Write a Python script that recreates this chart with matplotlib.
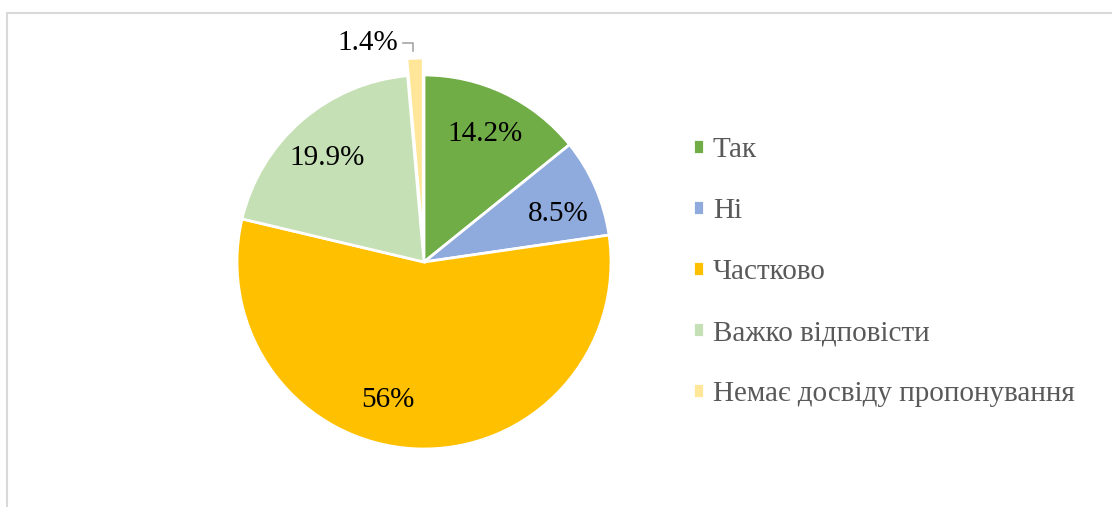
import numpy as np
import matplotlib.pyplot as plt
from matplotlib.lines import Line2D

categories = ['Так', 'Ні', 'Частково', 'Важко відповісти', 'Немає досвіду пропонування']
values = [14.2, 8.5, 56, 19.9, 1.4]
value_labels = ['14.2%', '8.5%', '56%', '19.9%', '1.4%']
colors = ['#70ad47', '#8faadc', '#ffc000', '#c5e0b4', '#ffe699']

plt.rcParams['font.family'] = ['Liberation Serif', 'DejaVu Serif']

W, H = 1112, 507
fig = plt.figure(figsize=(W / 100, H / 100), dpi=100)
ax = fig.add_axes([0, 0, 1, 1])

cx, cy, r = 424, H - 262, 187
explode = [0, 0, 0, 0, 17]
wedges, _ = ax.pie(values, colors=colors, startangle=90, counterclock=False,
                   center=(cx, cy), radius=r, explode=explode,
                   wedgeprops={'edgecolor': 'white', 'linewidth': 2})
ax.set_xlim(0, W)
ax.set_ylim(0, H)
ax.set_aspect('auto')
ax.axis('off')

# percentage labels inside slices (small angle nudge like Excel's best fit)
nudge = [0, -4, -12, 2]
cum = np.cumsum([0] + values)
tot = sum(values)
for i, lab in enumerate(value_labels[:-1]):
    mid = np.deg2rad(90 - 360 * (cum[i] + cum[i + 1]) / 2 / tot + nudge[i])
    d = 0.76 * r
    ax.text(cx + d * np.cos(mid), cy + d * np.sin(mid), lab, ha='center', va='center',
            fontsize=21, color='black')

# small slice label with leader line
ax.text(398, H - 43, value_labels[-1], ha='right', va='center', fontsize=21, color='black')
ax.plot([403, 413, 413], [H - 43, H - 43, H - 51], color='#a6a6a6', lw=1.2)

leg = ax.legend(wedges, categories, loc='center left', bbox_to_anchor=(693 / W, 1 - 272 / H),
                frameon=False, fontsize=21, handlelength=0.38, handleheight=0.38,
                handletextpad=0.3, labelspacing=1.2, borderpad=0, borderaxespad=0)
for t in leg.get_texts():
    t.set_color('#595959')

# chart border (top and left visible)
fig.add_artist(Line2D([7 / W, 1], [1 - 13 / H, 1 - 13 / H], color='#d9d9d9', lw=1.5, transform=fig.transFigure))
fig.add_artist(Line2D([7 / W, 7 / W], [0, 1 - 13 / H], color='#d9d9d9', lw=1.5, transform=fig.transFigure))

fig.savefig('out.png', dpi=100)
